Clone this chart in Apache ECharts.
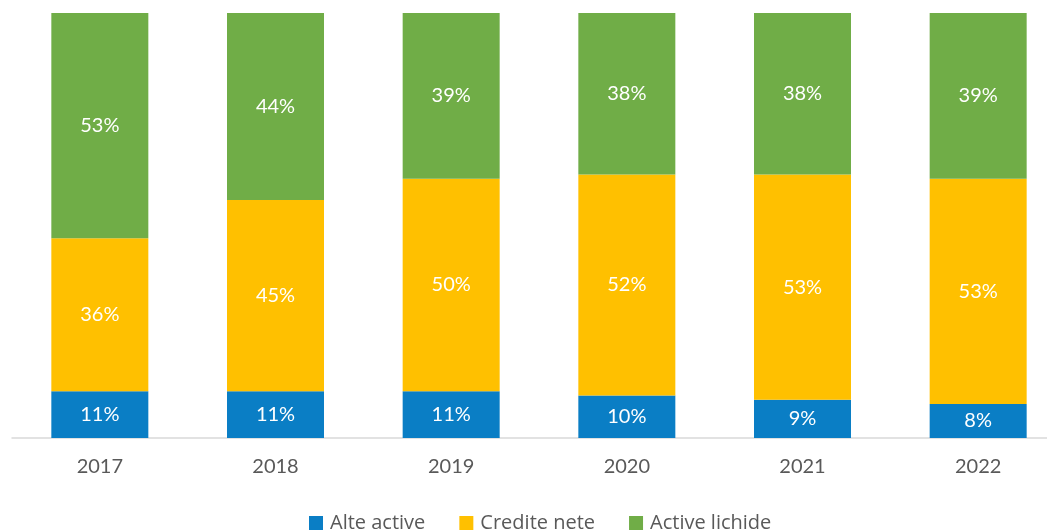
<!DOCTYPE html>
<html><head><meta charset="utf-8">
<script src="https://cdn.jsdelivr.net/npm/echarts@6/dist/echarts.min.js"></script>
<style>html,body{margin:0;padding:0;background:#fff;overflow:hidden}#c{width:1066px;height:531px}</style>
</head><body><div id="c"></div>
<script>
const categories = ['2017','2018','2019','2020','2021','2022'];
const alteActive = [11, 11, 11, 10, 9, 8];
const crediteNete = [36, 45, 50, 52, 53, 53];
const activeLichide = [53, 44, 39, 38, 38, 39];
const seriesNames = ['Alte active', 'Credite nete', 'Active lichide'];
const colors = ['#0A7EC5', '#FFC000', '#70AD47'];

const font = 'Lato, "Open Sans", sans-serif';
const lbl = {show:true, position:'inside', color:'#fff', fontSize:20, fontFamily:font, formatter: p => p.value + '%'};
function mk(name, data, color){
  return {name, type:'bar', stack:'t', data, barWidth:97, itemStyle:{color}, label:lbl};
}
const chart = echarts.init(document.getElementById('c'));
chart.setOption({
  animation:false,
  grid:{left:12, right:0, top:13, bottom:93, containLabel:false},
  xAxis:{type:'category', data:categories,
    axisLine:{lineStyle:{color:'#D9D9D9', width:1.5}}, axisTick:{show:false},
    axisLabel:{color:'#595959', fontSize:20, fontFamily:font, margin:19}},
  yAxis:{type:'value', min:0, max:100, show:false, splitLine:{show:false}},
  legend:{top:513, left:309, itemWidth:14, itemHeight:14, itemGap:34, icon:'rect', padding:[0,0,0,0],
    textStyle:{color:'#595959', fontSize:20, fontFamily:'"Open Sans", sans-serif', padding:[0,0,0,2]}, data:seriesNames},
  series:[mk(seriesNames[0], alteActive, colors[0]), mk(seriesNames[1], crediteNete, colors[1]), mk(seriesNames[2], activeLichide, colors[2])]
});
</script></body></html>
